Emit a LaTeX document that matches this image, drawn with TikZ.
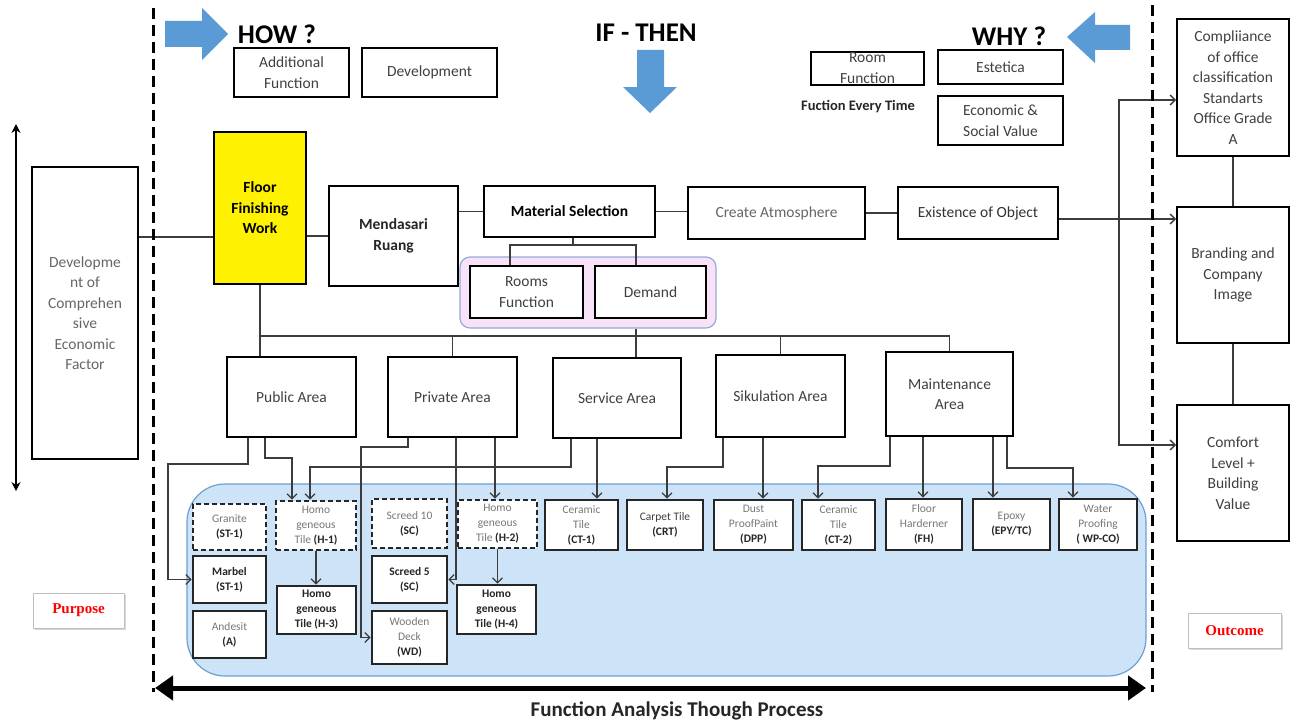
\documentclass[tikz,border=0pt]{standalone}
\usepackage{fontspec}
\setmainfont{Carlito}
\newfontfamily\serifbold{Liberation Serif}
\usetikzlibrary{arrows.meta,shadows}
\definecolor{blu}{RGB}{91,155,213}
\definecolor{tgray}{RGB}{64,64,64}
\definecolor{lgray}{RGB}{120,120,120}
\definecolor{cblue}{RGB}{204,227,248}
\definecolor{cborder}{RGB}{110,160,210}
\definecolor{pinkf}{RGB}{248,226,248}
\definecolor{pinkb}{RGB}{150,170,220}
\definecolor{lnc}{RGB}{60,60,60}
\newcommand{\gy}[1]{\textcolor{lgray}{#1}}
\begin{document}
\begin{tikzpicture}[x=1pt,y=-1pt,
  lbl/.style={font=\fontsize{15.5}{20.5}\selectfont, text=tgray, align=center},
  bx/.style={draw=black, line width=2pt, fill=white, inner sep=0pt, lbl},
  tile/.style={draw=black!85, line width=2.6pt, fill=white, inner sep=0pt, align=center,
    font=\fontsize{11.5}{15}\selectfont, text=black!85},
  dtile/.style={tile, dash pattern=on 5pt off 3pt},
  cn/.style={draw=lnc, line width=1.3pt},
  arr/.style={cn, -{Straight Barb[length=5pt,width=10pt]}},
  ttl/.style={font=\fontsize{27}{30}\selectfont\bfseries},
  blue arrow/.style={fill=blu},
  dashline/.style={line width=3pt, dash pattern=on 11pt off 6pt},
  pbox/.style={draw=black!25, line width=0.8pt, fill=white,
    drop shadow={opacity=0.3,shadow xshift=1.5pt,shadow yshift=-1.5pt},
    font=\serifbold\fontsize{15}{18}\selectfont\bfseries, text=red, inner sep=0pt}
]
\useasboundingbox (0,0) rectangle (1293,725);
\fill[white] (0,0) rectangle (1293,725);

% containers
\node[draw=cborder, fill=cblue, line width=1.2pt, rounded corners=38pt,
  minimum width=959, minimum height=192, inner sep=0pt] (cont) at (666.5,580) {};
\node[draw=pinkb, fill=pinkf, line width=1.2pt, rounded corners=10pt,
  minimum width=256, minimum height=71, inner sep=0pt] (pink) at (588,292.5) {};

% blue arrows and titles
\fill[blue arrow] (165,21) -- (202,21) -- (202,8) -- (228,34) -- (202,60) -- (202,47) -- (165,47) -- cycle;
\fill[blue arrow] (637,50) -- (664,50) -- (664,87) -- (677,87) -- (650,113) -- (623,87) -- (637,87) -- cycle;
\fill[blue arrow] (1130,25) -- (1095,25) -- (1095,12) -- (1067,37) -- (1095,63) -- (1095,50) -- (1130,50) -- cycle;
\node[ttl] (how) at (277,34) {HOW ?};
\node[ttl] (ifthen) at (646,33) {IF - THEN};
\node[ttl] (why) at (1009,36) {WHY ?};

% top boxes
\node[bx, minimum width=115, minimum height=49] (af) at (291.5,72.5) {Additional\\Function};
\node[bx, minimum width=135, minimum height=49] (dvp) at (429.5,72.5) {Development};
\node[bx, minimum width=113, minimum height=33, font=\fontsize{15.5}{21}\selectfont] (rfn) at (867.5,68.5) {Room\\Function};
\node[bx, minimum width=125, minimum height=34] (est) at (1000.5,67) {Estetica};
\node[bx, minimum width=125, minimum height=49] (esv) at (1000.5,120.5) {Economic \&\\Social Value};
\node[font=\fontsize{14.5}{17}\selectfont\bfseries, text=black!85] (fet) at (858,107) {Fuction Every Time};

% right boxes
\node[bx, minimum width=112, minimum height=137] (comp) at (1233,87.5) {Compliiance\\of office\\classification\\Standarts\\Office Grade\\A};
\node[bx, minimum width=112, minimum height=136] (br) at (1233,275) {Branding and\\Company\\Image};
\node[bx, minimum width=112, minimum height=136] (cf) at (1233,473) {Comfort\\Level +\\Building\\Value};

% main row
\node[bx, minimum width=106, minimum height=292, text=black!60] (dev) at (85,313) {Developme\\nt of\\Comprehen\\sive\\Economic\\Factor};
\node[bx, fill=yellow, minimum width=92, minimum height=152, text=black, font=\fontsize{15.5}{20.5}\selectfont\bfseries] (ffw) at (260,208) {Floor\\Finishing\\Work};
\node[bx, minimum width=129, minimum height=100, text=black!85, font=\fontsize{15.5}{20.5}\selectfont\bfseries] (mr) at (393.5,236) {Mendasari\\Ruang};
\node[bx, minimum width=171, minimum height=51, text=black, font=\fontsize{15.5}{20.5}\selectfont\bfseries] (ms) at (569.5,211.5) {Material Selection};
\node[bx, minimum width=177, minimum height=52, text=black!60] (ca) at (776.5,213) {Create Atmosphere};
\node[bx, minimum width=160, minimum height=52, text=black!80] (eo) at (978,213) {Existence of Object};
\node[bx, minimum width=113, minimum height=52] (rf) at (526.5,292) {Rooms\\Function};
\node[bx, minimum width=111, minimum height=52] (dm) at (650.5,292) {Demand};

% areas
\node[bx, minimum width=129, minimum height=80] (pa) at (291.5,397) {Public Area};
\node[bx, minimum width=129, minimum height=80] (pv) at (452.5,397) {Private Area};
\node[bx, minimum width=128, minimum height=80] (sa) at (617,398) {Service Area};
\node[bx, minimum width=129, minimum height=82] (sk) at (780.5,396) {Sikulation Area};
\node[bx, minimum width=127, minimum height=84] (mt) at (949.5,394) {Maintenance\\Area};

% tiles row 1
\node[dtile, minimum width=73, minimum height=46] (g1) at (229.5,527) {\gy{Granite}\\\textbf{(ST-1)}};
\node[dtile, minimum width=80, minimum height=49] (h1) at (316,525.5) {\gy{Homo}\\\gy{geneous}\\\gy{Tile} \textbf{(H-1)}};
\node[dtile, minimum width=75, minimum height=49] (s10) at (409.5,523.5) {\gy{Screed 10}\\\textbf{(SC)}};
\node[dtile, minimum width=79, minimum height=48] (h2) at (497.5,524) {\gy{Homo}\\\gy{geneous}\\\gy{Tile} \textbf{(H-2)}};
\node[tile, minimum width=73, minimum height=50] (ct1) at (581.5,525) {\gy{Ceramic}\\\gy{Tile}\\\textbf{(CT-1)}};
\node[tile, minimum width=76, minimum height=50] (crt) at (665,525) {\textcolor{tgray}{Carpet Tile}\\\textbf{(CRT)}};
\node[tile, minimum width=79, minimum height=50] (dpp) at (753.5,525) {\gy{Dust}\\\gy{ProofPaint}\\\textbf{(DPP)}};
\node[tile, minimum width=73, minimum height=50] (ct2) at (838.5,525) {\gy{Ceramic}\\\gy{Tile}\\\textbf{(CT-2)}};
\node[tile, minimum width=76, minimum height=51] (fh) at (924,524.5) {\gy{Floor}\\\gy{Harderner}\\\textbf{(FH)}};
\node[tile, minimum width=77, minimum height=51] (epy) at (1011.5,524.5) {\gy{Epoxy}\\\textbf{(EPY/TC)}};
\node[tile, minimum width=78, minimum height=51] (wp) at (1098,524.5) {\gy{Water}\\\gy{Proofing}\\\textbf{( WP-CO)}};
% row 2
\node[tile, minimum width=73, minimum height=47, font=\fontsize{11.5}{15}\selectfont\bfseries] (mb) at (229.5,579.5) {Marbel\\(ST-1)};
\node[tile, minimum width=79, minimum height=48, font=\fontsize{11.5}{15}\selectfont\bfseries] (h3) at (316.5,610) {Homo\\geneous\\Tile (H-3)};
\node[tile, minimum width=75, minimum height=47, font=\fontsize{11.5}{15}\selectfont\bfseries] (s5) at (409.5,579.5) {Screed 5\\(SC)};
\node[tile, minimum width=79, minimum height=49, font=\fontsize{11.5}{15}\selectfont\bfseries] (h4) at (496.5,609.5) {Homo\\geneous\\Tile (H-4)};
% row 3
\node[tile, minimum width=73, minimum height=47] (an) at (229.5,634.5) {\gy{Andesit}\\\textbf{(A)}};
\node[tile, minimum width=75, minimum height=53] (wd) at (409.5,637.5) {\gy{Wooden}\\\gy{Deck}\\\textbf{(WD)}};

% purpose / outcome
\node[pbox, minimum width=91, minimum height=35] (purp) at (78.5,610.5) {Purpose};
\node[pbox, minimum width=93, minimum height=35] (outc) at (1234.5,630.5) {Outcome};

% connectors top
\draw[cn] (dev.east |- 0,237) -- (ffw.west |- 0,237);
\draw[cn] (ffw.east |- mr.west) -- (mr.west);
\draw[cn] (mr.east |- ms.west) -- (ms.west);
\draw[cn] (ms.east) -- (ca.west |- ms.east);
\draw[cn] (ca.east) -- (eo.west |- ca.east);
\draw[arr] (eo.east |- 0,219) -- (br.west |- 0,219);
\coordinate (fork) at (1119,219);
\draw[arr] (fork) |- (comp.west |- 0,100);
\draw[arr] (fork) |- (cf.west |- 0,445);
\draw[cn] (comp.south) -- (br.north);
\draw[cn] (br.south) -- (cf.north);
\draw[cn] (ms.south -| 573,0) -- (573,245);
\draw[cn] (rf.north -| 510,0) -- (510,245) -- (636,245) -- (dm.north -| 636,0);
\draw[cn] (ffw.south) -- (ffw.south |- pa.north);
\draw[cn] (ffw.south |- 0,336) -| (mt.north);
\draw[cn] (pv.north |- 0,336) -- (pv.north);
\draw[cn] (pink.south -| 636,0) -- (sa.north -| 636,0);
\draw[cn] (sk.north |- 0,336) -- (sk.north);

% connectors to tiles
\draw[arr] (pa.south -| 248,0) |- (168,464) |- (mb.west);
\draw[arr] (pa.south -| 265,0) |- (292,458) -- (h1.north -| 292,0);
\draw[arr] (sa.south -| 571,0) |- (310,467) -- (h1.north -| 310,0);
\draw[arr] (sa.south -| 597,0) -- (ct1.north -| 597,0);
\draw[arr] (pv.south -| 408,0) |- (361,447) |- (wd.west);
\draw[arr] (pv.south -| 456,0) |- (s5.east);
\draw[arr] (pv.south -| 495,0) -- (h2.north -| 495,0);
\draw[arr] (sk.south -| 723,0) |- (667,467) -- (crt.north -| 667,0);
\draw[arr] (sk.south -| 763,0) -- (dpp.north -| 763,0);
\draw[arr] (mt.south -| 890,0) |- (818,466) -- (ct2.north -| 818,0);
\draw[arr] (mt.south -| 923,0) -- (fh.north -| 923,0);
\draw[arr] (mt.south -| 993,0) -- (epy.north -| 993,0);
\draw[arr] (mt.south -| 1007,0) |- (1073,468) -- (wp.north -| 1073,0);
\draw[arr] (h1.south) -- (h3.north -| h1.south);
\draw[arr] (h2.south) -- (h4.north -| h2.south);

% dashed separators
\draw[dashline] (153,8) -- (153,692);
\draw[dashline] (1152,5) -- (1152,692);

% side arrows
\coordinate (la1) at (16,124);
\coordinate (la2) at (16,491);
\draw[line width=2pt, {Stealth[length=9pt,width=9pt]}-{Stealth[length=9pt,width=9pt]}] (la1) -- (la2);
\coordinate (fa1) at (155,688);
\coordinate (fa2) at (1146,688);
\draw[line width=5pt, {Triangle[length=18pt,width=24pt]}-{Triangle[length=18pt,width=24pt]}] (fa1) -- (fa2);
\node[font=\fontsize{21}{24}\selectfont\bfseries, text=black!85] (fatp) at (677,711) {Function Analysis Though Process};
\end{tikzpicture}
\end{document}
